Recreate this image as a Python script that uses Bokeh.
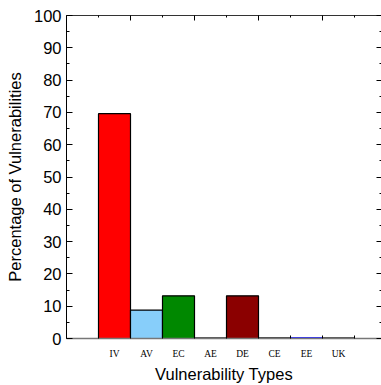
import numpy as np
from bokeh.plotting import figure
from bokeh.models import (ColumnDataSource, LinearAxis, FixedTicker, SingleIntervalTicker, Range1d)
from bokeh.embed import file_html
from bokeh.resources import INLINE

categories = ["IV", "AV", "EC", "AE", "DE", "CE", "EE", "UK"]
percentages = [69.6, 8.8, 13.2, 0.2, 13.2, 0.2, 0.2, 0.2]
fill_colors = ["#ff0000", "#87cefa", "#008800", "#333333", "#8b0000", "#222222", "#0000ff", "#333333"]
line_colors = ["#000000", "#000000", "#000000", "#333333", "#000000", "#222222", "#0000ff", "#333333"]

W, H = 381, 385
left, top, bottom = 66, 15, 46
unit = 32.0

xpos = np.arange(len(categories)) + 1.5
src = ColumnDataSource(dict(x=xpos, top=percentages, fill=fill_colors, line=line_colors, cat=categories))

p = figure(width=W, height=H, output_backend="svg", toolbar_location=None,
           x_axis_location=None, y_axis_location=None,
           min_border_left=left, min_border_top=top, min_border_bottom=bottom, min_border_right=0)
p.x_range = Range1d(0, (W - left) / unit)
p.y_range = Range1d(0, 100)
p.outline_line_color = None
p.xgrid.visible = False
p.ygrid.visible = False
p.background_fill_color = "white"
p.border_fill_color = "white"

p.vbar(x="x", top="top", width=1.0, bottom=0, source=src, fill_color="fill",
       line_color="line", line_width=1.2)

def hide_labels(ax):
    ax.major_label_text_font_size = "0px"
    ax.major_label_text_color = None
    ax.major_label_standoff = 0

# left axis
ya = LinearAxis(ticker=SingleIntervalTicker(interval=10, num_minor_ticks=2))
ya.axis_label = "Percentage of Vulnerabilities"
ya.axis_label_text_font = "Liberation Sans"
ya.axis_label_text_font_size = "16.5px"
ya.axis_label_text_font_style = "normal"
ya.axis_label_text_color = "black"
ya.axis_label_standoff = 7
ya.major_label_text_font = "Liberation Sans"
ya.major_label_text_font_size = "16.5px"
ya.major_label_text_color = "black"
ya.major_label_standoff = 5
ya.major_tick_in = 6
ya.major_tick_out = 0
ya.minor_tick_in = 3
ya.minor_tick_out = 0
ya.axis_line_color = "black"
ya.major_tick_line_color = "black"
ya.minor_tick_line_color = "black"
p.add_layout(ya, "left")

# right axis (ticks only)
ra = LinearAxis(ticker=SingleIntervalTicker(interval=10, num_minor_ticks=2))
hide_labels(ra)
ra.axis_line_color = None
ra.major_tick_in = 5
ra.major_tick_out = 0
ra.minor_tick_in = 2
ra.minor_tick_out = 0
p.add_layout(ra, "right")

# top axis
ta = LinearAxis(ticker=FixedTicker(ticks=[2, 4, 6, 8], minor_ticks=[1, 3, 5, 7, 9]))
hide_labels(ta)
ta.axis_line_color = "#333333"
ta.major_tick_in = 5
ta.major_tick_out = 0
ta.minor_tick_in = 2
ta.minor_tick_out = 0
p.add_layout(ta, "above")

# bottom axis with category labels
ba = LinearAxis(ticker=FixedTicker(ticks=list(xpos), minor_ticks=[1, 2, 3, 4, 5, 6, 7, 8, 9]))
ba.major_label_overrides = {float(x): c for x, c in zip(xpos, categories)}
ba.major_label_text_font = "Liberation Serif"
ba.major_label_text_font_size = "9.5px"
ba.major_label_text_color = "black"
ba.major_label_standoff = 10
ba.major_tick_in = 0
ba.major_tick_out = 0
ba.minor_tick_in = 3
ba.minor_tick_out = 0
ba.axis_line_color = "#777777"
ba.axis_line_width = 1.5
ba.axis_label = "Vulnerability Types"
ba.axis_label_text_font = "Liberation Sans"
ba.axis_label_text_font_size = "16.5px"
ba.axis_label_text_font_style = "normal"
ba.axis_label_text_color = "black"
ba.axis_label_standoff = 3
p.add_layout(ba, "below")

open("out.html", "w").write(file_html(p, INLINE))
